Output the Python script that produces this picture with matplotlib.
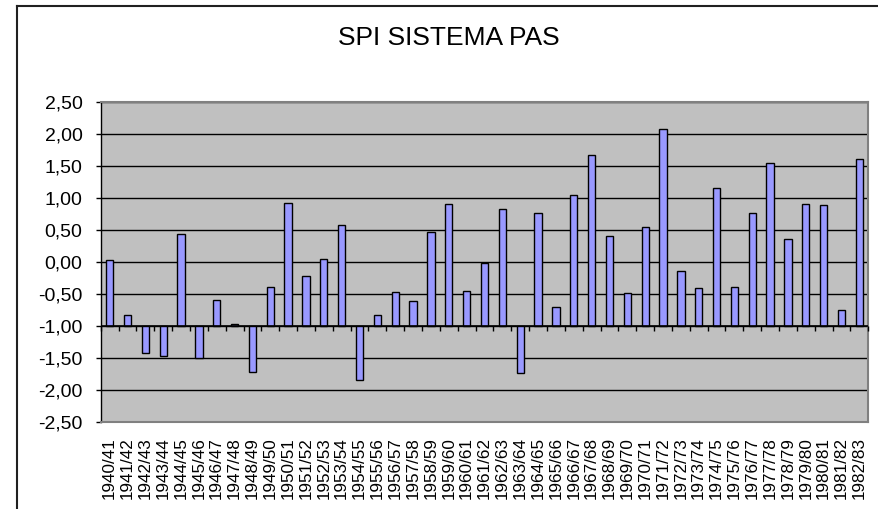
import matplotlib
matplotlib.use("Agg")
import matplotlib.pyplot as plt
from matplotlib.ticker import FuncFormatter, MultipleLocator
import numpy as np

plt.rcParams['font.family'] = ['Liberation Sans', 'DejaVu Sans']

title = "SPI SISTEMA PAS"
categories = ["1940/41", "1941/42", "1942/43", "1943/44", "1944/45", "1945/46", "1946/47",
              "1947/48", "1948/49", "1949/50", "1950/51", "1951/52", "1952/53", "1953/54",
              "1954/55", "1955/56", "1956/57", "1957/58", "1958/59", "1959/60", "1960/61",
              "1961/62", "1962/63", "1963/64", "1964/65", "1965/66", "1966/67", "1967/68",
              "1968/69", "1969/70", "1970/71", "1971/72", "1972/73", "1973/74", "1974/75",
              "1975/76", "1976/77", "1977/78", "1978/79", "1979/80", "1980/81", "1981/82",
              "1982/83"]
spi = [0.02, -0.83, -1.43, -1.47, 0.44, -1.51, -0.60,
       -0.98, -1.72, -0.39, 0.92, -0.22, 0.05, 0.57,
       -1.85, -0.84, -0.47, -0.61, 0.46, 0.90, -0.45,
       -0.02, 0.82, -1.74, 0.76, -0.70, 1.05, 1.67,
       0.40, -0.49, 0.55, 2.08, -0.14, -0.41, 1.15,
       -0.39, 0.76, 1.55, 0.36, 0.90, 0.88, -0.76,
       1.61]
baseline = -1.0
y_min, y_max, y_step = -2.5, 2.5, 0.5

W, H = 879, 509
fig = plt.figure(figsize=(W / 100, H / 100), dpi=100)
fig.patch.set_facecolor("white")

ax = fig.add_axes([100.7 / W, (H - 421.7) / H, 767.6 / W, 320 / H])
ax.set_facecolor("#C0C0C0")

x = np.arange(len(categories))
vals = np.array(spi)
ax.bar(x, vals - baseline, bottom=baseline, width=0.41, color="#9999FF",
       edgecolor="black", linewidth=1.0, zorder=3)

ax.set_ylim(y_min, y_max)
ax.set_xlim(-0.5, len(categories) - 0.5)
ax.yaxis.set_major_locator(MultipleLocator(y_step))
ax.yaxis.set_major_formatter(FuncFormatter(lambda v, p: f"{v:.2f}".replace(".", ",")))
ax.grid(axis="y", color="black", linewidth=1.0, zorder=1)
ax.set_axisbelow(True)

# category axis at baseline with ticks between categories
ax.axhline(baseline, color="black", linewidth=1.2, zorder=4)
bounds = np.arange(len(categories) + 1) - 0.5
ax.vlines(bounds, baseline - 5 / 64, baseline, color="black", linewidth=1.0, zorder=4,
          clip_on=False)

ax.set_xticks(x)
ax.set_xticklabels(categories, rotation=90, fontsize=12.3)
ax.tick_params(axis="x", length=0, pad=11)
ax.tick_params(axis="y", direction="out", length=3.6, width=1, labelsize=14, pad=9.5,
               color="black")

for side in ["top", "right", "bottom"]:
    ax.spines[side].set_color("#808080")
    ax.spines[side].set_linewidth(1.5)
ax.spines["left"].set_color("black")
ax.spines["left"].set_linewidth(1.0)

fig.text(449 / W, 1 - 38 / H, title, ha="center", va="center", fontsize=19)

# chart area border (top and left visible)
fig.add_artist(plt.Line2D([16.5 / W, 16.5 / W], [0, 1 - 5.7 / H], color="#202020",
                          linewidth=1.5, transform=fig.transFigure))
fig.add_artist(plt.Line2D([16.5 / W, 1], [1 - 5.7 / H, 1 - 5.7 / H], color="#202020",
                          linewidth=1.5, transform=fig.transFigure))

fig.savefig("out.png", dpi=100)
